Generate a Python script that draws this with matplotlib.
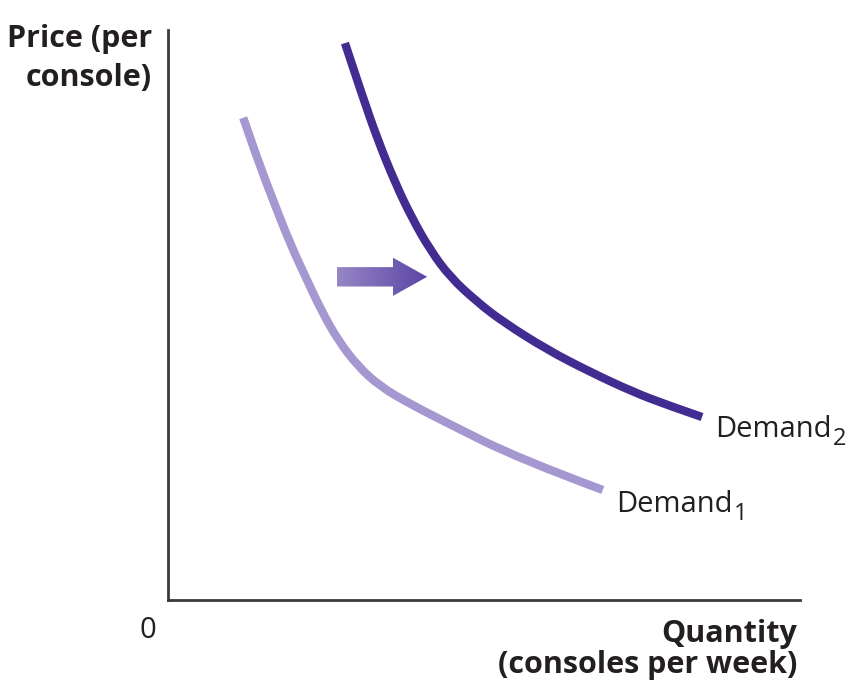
import numpy as np
import matplotlib
matplotlib.use("Agg")
from matplotlib import pyplot as plt
from matplotlib.patches import FancyArrow, PathPatch
from matplotlib.path import Path

plt.rcParams['font.family'] = ['Open Sans', 'DejaVu Sans']

# curves (x = quantity, y = price, 0-100 units)
d1_q = [11.9, 14.1, 16.6, 19.3, 22.0, 24.4, 26.9, 29.9, 33.5, 38.3, 44.1, 55.7, 68.8]
d1_p = [84.6, 77.5, 70.2, 62.6, 56.1, 50.5, 45.6, 41.2, 37.5, 34.4, 31.1, 24.7, 19.3]
d2_q = [28.0, 30.7, 33.2, 35.9, 38.6, 41.5, 44.6, 48.9, 53.0, 60.0, 66.8, 73.6, 79.0, 84.5]
d2_p = [97.7, 88.6, 80.7, 73.3, 67.0, 61.4, 56.7, 52.3, 48.8, 43.9, 40.0, 36.5, 34.2, 32.1]

arrow_tail = 26.7
arrow_tip = 41.0
arrow_y = 56.7

dark = '#432c91'
light = '#a597cf'
text_col = '#231f20'


def smooth_path(xs, ys):
    # quadratic bezier through midpoints so the curve has no corners
    pts = list(zip(xs, ys))
    verts = [pts[0]]
    codes = [Path.MOVETO]
    for i in range(1, len(pts) - 1):
        end = pts[-1] if i == len(pts) - 2 else ((pts[i][0] + pts[i + 1][0]) / 2, (pts[i][1] + pts[i + 1][1]) / 2)
        verts += [pts[i], end]
        codes += [Path.CURVE3, Path.CURVE3]
    return Path(verts, codes)


fig = plt.figure(figsize=(8.57, 6.82), dpi=100)
ax = fig.add_axes([168/857, 82/682, 632/857, 570/682])
ax.set_xlim(0, 100)
ax.set_ylim(0, 100)

ax.add_patch(PathPatch(smooth_path(d1_q, d1_p), fill=False, edgecolor=light, lw=6, capstyle='butt'))
ax.add_patch(PathPatch(smooth_path(d2_q, d2_p), fill=False, edgecolor=dark, lw=6, capstyle='butt'))

# shift arrow with a gradient fill
arr = FancyArrow(arrow_tail, arrow_y, arrow_tip - arrow_tail, 0,
                 width=3.4, head_width=6.7, head_length=5.4,
                 length_includes_head=True, facecolor='none', edgecolor='none')
ax.add_patch(arr)
grad = np.linspace(0, 1, 256).reshape(1, -1)
cmap = matplotlib.colors.LinearSegmentedColormap.from_list('g', ['#9686c6', '#5a45a4'])
im = ax.imshow(grad, extent=[arrow_tail, arrow_tip, arrow_y - 5, arrow_y + 5], aspect='auto',
               cmap=cmap, zorder=3)
im.set_clip_path(arr)

for s in ['top', 'right']:
    ax.spines[s].set_visible(False)
for s in ['left', 'bottom']:
    ax.spines[s].set_color('#3a3a3a')
    ax.spines[s].set_linewidth(2)
ax.set_xticks([])
ax.set_yticks([])

fig.text(152/857, 1 - 47/682, 'Price (per', ha='right', va='baseline',
         fontsize=22, fontweight='bold', color=text_col)
fig.text(152/857, 1 - 86/682, 'console)', ha='right', va='baseline',
         fontsize=22, fontweight='bold', color=text_col)
fig.text(148/857, 1 - 638/682, '0', ha='center', va='baseline', fontsize=21, color=text_col)
fig.text(797/857, 1 - 642/682, 'Quantity', ha='right', va='baseline',
         fontsize=22, fontweight='bold', color=text_col)
fig.text(797/857, 1 - 673/682, '(consoles per week)', ha='right', va='baseline',
         fontsize=22, fontweight='bold', color=text_col)

# curve labels with subscripts
for q, p, dy, sub in [(d2_q[-1], d2_p[-1], -20, '2'), (d1_q[-1], d1_p[-1], -22, '1')]:
    ax.annotate('Demand', xy=(q, p), xytext=(13, dy), textcoords='offset pixels',
                ha='left', va='baseline', fontsize=21, color=text_col)
    ax.annotate(sub, xy=(q, p), xytext=(131, dy - 8), textcoords='offset pixels',
                ha='left', va='baseline', fontsize=17, color=text_col)

fig.savefig('out.png', dpi=100)
